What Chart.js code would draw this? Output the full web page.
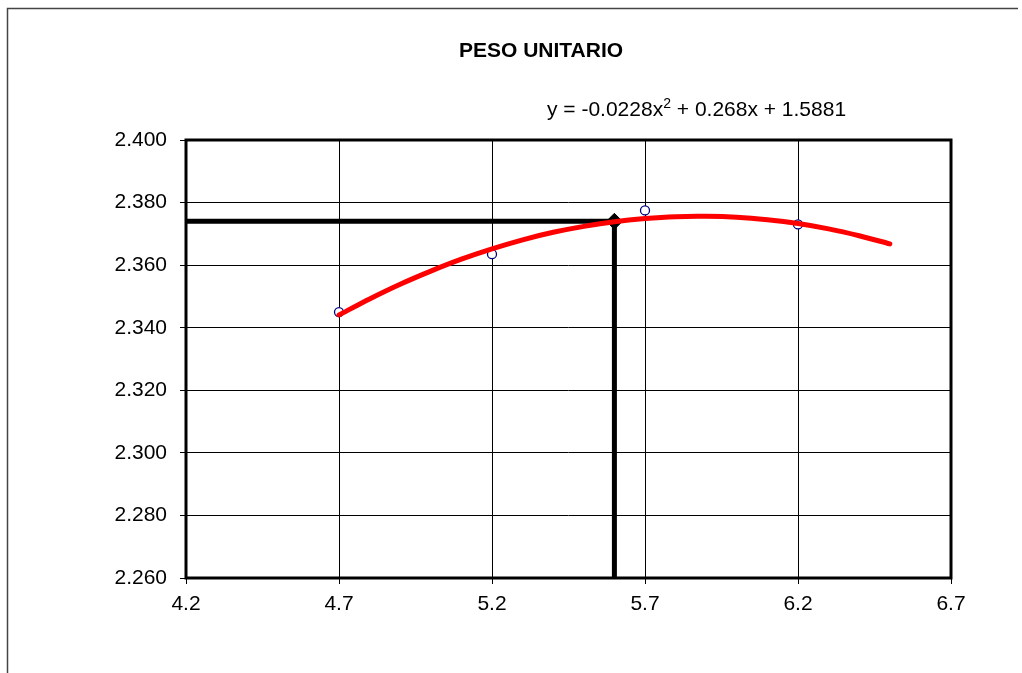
<!DOCTYPE html>
<html>
<head>
<meta charset="utf-8">
<script src="https://cdn.jsdelivr.net/npm/chart.js@4.4.1/dist/chart.umd.min.js"></script>
<style>
  html, body { margin: 0; padding: 0; background: #fff; }
</style>
</head>
<body>
<canvas id="pesoChart" width="1022" height="673"></canvas>
<script>
// data
const xTicks = [4.2, 4.7, 5.2, 5.7, 6.2, 6.7];
const yTicks = [2.26, 2.28, 2.30, 2.32, 2.34, 2.36, 2.38, 2.40];

const asfaltoX = [4.7, 5.2, 5.7, 6.2];
const pesoY = [2.345, 2.3635, 2.3775, 2.373];

// red trend curve, read every 0.1
const trendX = [4.7, 4.8, 4.9, 5.0, 5.1, 5.2, 5.3, 5.4, 5.5, 5.6, 5.7, 5.8, 5.9, 6.0, 6.1, 6.2, 6.3, 6.4, 6.5];
const trendY = [2.3441, 2.3492, 2.3539, 2.3581, 2.3619, 2.3652, 2.3681, 2.3705, 2.3724, 2.3739,
                2.3749, 2.3755, 2.3756, 2.3753, 2.3745, 2.3733, 2.3716, 2.3694, 2.3668];

// optimum marker and its guide lines
const optX = [4.2, 5.6, 5.6];
const optY = [2.374, 2.374, 2.26];

const titleText = 'PESO UNITARIO';
const eqLeft = 'y = -0.0228x';
const eqSup = '2';
const eqRight = ' + 0.268x + 1.5881';

const FONT = "'Liberation Sans', Arial, sans-serif";

const toPoints = (xs, ys) => xs.map((x, i) => ({ x: x, y: ys[i] }));

const decorPlugin = {
  id: 'decor',
  beforeDraw(chart) {
    const ctx = chart.ctx;
    ctx.save();
    ctx.fillStyle = '#fff';
    ctx.fillRect(0, 0, chart.width, chart.height);
    // outer frame (left and top only visible)
    ctx.strokeStyle = '#444';
    ctx.lineWidth = 1.5;
    ctx.beginPath();
    ctx.moveTo(7.5, chart.height);
    ctx.lineTo(7.5, 8.5);
    ctx.lineTo(1018, 8.5);
    ctx.stroke();
    ctx.restore();
  },
  afterDraw(chart) {
    const ctx = chart.ctx;
    const a = chart.chartArea;
    ctx.save();
    ctx.strokeStyle = '#000';
    ctx.lineWidth = 3;
    ctx.strokeRect(a.left, a.top, a.right - a.left, a.bottom - a.top);

    ctx.fillStyle = '#000';
    ctx.textBaseline = 'alphabetic';
    ctx.font = 'bold 21px ' + FONT;
    ctx.textAlign = 'center';
    ctx.fillText(titleText, 541, 57);

    ctx.textAlign = 'left';
    let x = 547;
    ctx.font = '21px ' + FONT;
    ctx.fillText(eqLeft, x, 116);
    x += ctx.measureText(eqLeft).width;
    ctx.font = '14px ' + FONT;
    ctx.fillText(eqSup, x, 108);
    x += ctx.measureText(eqSup).width;
    ctx.font = '21px ' + FONT;
    ctx.fillText(eqRight, x, 116);
    ctx.restore();
  }
};

const ctx = document.getElementById('pesoChart').getContext('2d');
new Chart(ctx, {
  type: 'scatter',
  data: {
    datasets: [
      {
        label: 'Tendencia',
        data: toPoints(trendX, trendY),
        showLine: true,
        borderColor: '#ff0000',
        borderWidth: 5,
        tension: 0.3,
        pointRadius: 0,
        borderCapStyle: 'round'
      },
      {
        label: 'Optimo',
        data: [{ x: optX[1], y: optY[1] }],
        pointStyle: 'rectRot',
        pointRadius: 8,
        backgroundColor: '#000',
        borderColor: '#000',
        borderWidth: 1
      },
      {
        label: 'Guia',
        data: toPoints(optX, optY),
        showLine: true,
        borderColor: '#000',
        borderWidth: 5,
        tension: 0,
        pointRadius: 0
      },
      {
        label: 'Peso unitario',
        data: toPoints(asfaltoX, pesoY),
        showLine: false,
        pointStyle: 'circle',
        pointRadius: 4.5,
        borderColor: '#000080',
        backgroundColor: '#fff',
        borderWidth: 1.3
      }
    ]
  },
  options: {
    responsive: false,
    animation: false,
    devicePixelRatio: 1,
    layout: { padding: { left: 0, right: 71, top: 140, bottom: 0 } },
    scales: {
      x: {
        type: 'linear',
        min: 4.2,
        max: 6.7,
        afterBuildTicks: (scale) => { scale.ticks = xTicks.map(v => ({ value: v })); },
        afterFit: (scale) => { scale.height = 95; },
        border: { display: false },
        grid: { color: '#000', lineWidth: 1, tickColor: '#000', tickLength: 6, drawTicks: true },
        ticks: {
          color: '#000',
          padding: 8,
          maxRotation: 0,
          font: { family: FONT, size: 21 },
          callback: (v) => v.toFixed(1)
        }
      },
      y: {
        type: 'linear',
        min: 2.26,
        max: 2.40,
        afterBuildTicks: (scale) => { scale.ticks = yTicks.map(v => ({ value: v })); },
        afterFit: (scale) => { scale.width = 186; },
        border: { display: false },
        grid: { color: '#000', lineWidth: 1, tickColor: '#000', tickLength: 6, drawTicks: true },
        ticks: {
          color: '#000',
          padding: 13,
          font: { family: FONT, size: 21 },
          callback: (v) => v.toFixed(3)
        }
      }
    },
    plugins: {
      legend: { display: false },
      tooltip: { enabled: false },
      title: { display: false }
    }
  },
  plugins: [decorPlugin]
});
</script>
</body>
</html>
